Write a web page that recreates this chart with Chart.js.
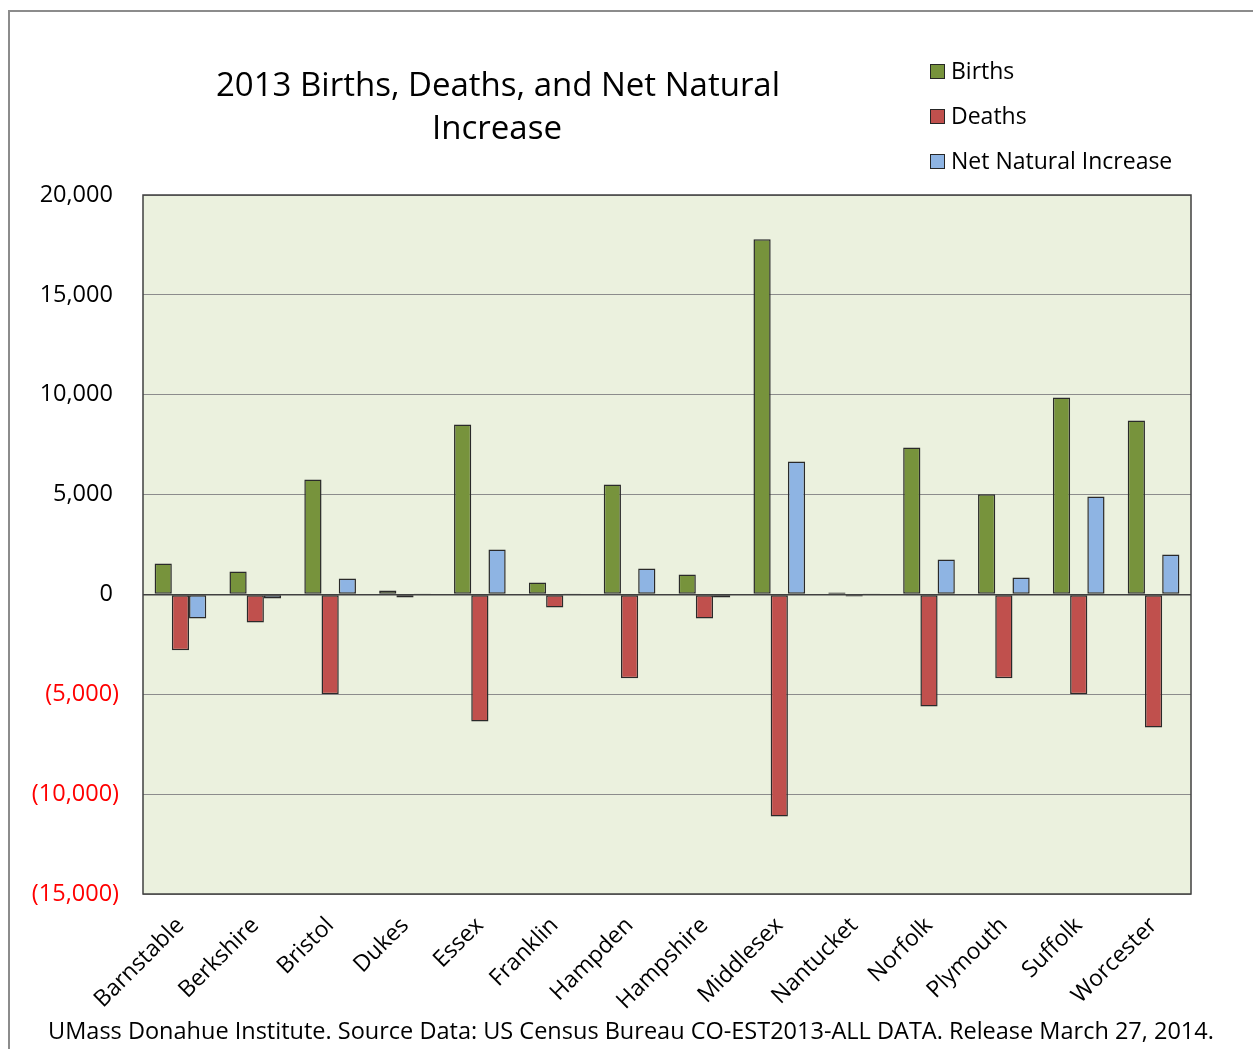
<!DOCTYPE html>
<html>
<head>
<meta charset="utf-8">
<script src="https://cdn.jsdelivr.net/npm/chart.js@4/dist/chart.umd.min.js"></script>
<style>
  html, body { margin: 0; padding: 0; background: #ffffff; }
  #wrap { width: 1253px; height: 1049px; position: relative; }
  canvas { display: block; }
</style>
</head>
<body>
<div id="wrap"><canvas id="c" width="1253" height="1049"></canvas></div>
<script>
const titleLines = ["2013 Births, Deaths, and Net Natural", "Increase"];
const footerText = "UMass Donahue Institute. Source Data: US Census Bureau CO-EST2013-ALL DATA. Release March 27, 2014.";
const counties = ["Barnstable", "Berkshire", "Bristol", "Dukes", "Essex", "Franklin", "Hampden", "Hampshire", "Middlesex", "Nantucket", "Norfolk", "Plymouth", "Suffolk", "Worcester"];
const seriesNames = ["Births", "Deaths", "Net Natural Increase"];
const births = [1550, 1150, 5760, 200, 8510, 600, 5510, 1000, 17780, 100, 7360, 5010, 9860, 8710];
const deaths = [-2800, -1400, -5000, -150, -6360, -650, -4200, -1200, -11120, -100, -5610, -4200, -5000, -6660];
const netIncrease = [-1200, -200, 800, 50, 2250, 50, 1300, -150, 6660, 50, 1750, 850, 4900, 2000];
const yTicks = [-15000, -10000, -5000, 0, 5000, 10000, 15000, 20000];
const seriesColors = ["#77933C", "#C0504D", "#8EB4E3"];

const FONT = "'Open Sans', 'DejaVu Sans', sans-serif";

function fmt(v) {
  const s = Math.abs(v).toLocaleString('en-US');
  return v < 0 ? '(' + s + ')' : s + ' ';
}

const decor = {
  id: 'decor',
  beforeDraw(chart) {
    const ctx = chart.ctx;
    const a = chart.chartArea;
    ctx.save();
    ctx.fillStyle = '#ffffff';
    ctx.fillRect(0, 0, chart.width, chart.height);
    ctx.fillStyle = '#EBF1DE';
    ctx.fillRect(a.left, a.top, a.right - a.left, a.bottom - a.top);
    ctx.restore();
  },
  afterDraw(chart) {
    const ctx = chart.ctx;
    const a = chart.chartArea;
    ctx.save();
    ctx.strokeStyle = '#404040';
    ctx.lineWidth = 1.5;
    ctx.strokeRect(a.left, a.top, a.right - a.left, a.bottom - a.top);
    ctx.strokeStyle = '#8c8c8c';
    ctx.lineWidth = 2;
    ctx.strokeRect(9, 11, 1300, 1100);
    ctx.fillStyle = '#000000';
    ctx.textAlign = 'center';
    ctx.textBaseline = 'middle';
    ctx.font = '33px ' + FONT;
    ctx.fillText(titleLines[0], 498, 87);
    ctx.fillText(titleLines[1], 497, 130);
    ctx.font = '23px ' + FONT;
    ctx.textAlign = 'left';
    chart.data.datasets.forEach((ds, i) => {
      const y = 71 + i * 45;
      ctx.fillStyle = ds.backgroundColor;
      ctx.fillRect(930, y - 7, 14, 14);
      ctx.strokeStyle = '#262626';
      ctx.lineWidth = 1;
      ctx.strokeRect(930.5, y - 6.5, 14, 14);
      ctx.fillStyle = '#000000';
      ctx.fillText(ds.label, 951, y + 1);
    });
    ctx.textAlign = 'center';
    ctx.font = '23.5px ' + FONT;
    ctx.fillText(footerText, 631, 1032);
    ctx.restore();
  }
};

new Chart(document.getElementById('c'), {
  type: 'bar',
  data: {
    labels: counties,
    datasets: [
      { label: seriesNames[0], data: births, backgroundColor: seriesColors[0] },
      { label: seriesNames[1], data: deaths, backgroundColor: seriesColors[1] },
      { label: seriesNames[2], data: netIncrease, backgroundColor: seriesColors[2] }
    ].map(d => Object.assign(d, { borderColor: '#2a2a2a', borderWidth: 1.5, borderSkipped: false }))
  },
  options: {
    responsive: false,
    animation: false,
    devicePixelRatio: 1,
    layout: { padding: { left: 0, right: 62, top: 195, bottom: 0 } },
    datasets: { bar: { barPercentage: 1, categoryPercentage: 0.69 } },
    plugins: { legend: { display: false }, title: { display: false }, tooltip: { enabled: false } },
    scales: {
      x: {
        grid: { display: false, drawTicks: false },
        border: { display: false },
        ticks: {
          color: '#000000',
          font: { family: FONT, size: 23 },
          maxRotation: 45, minRotation: 45,
          autoSkip: false,
          padding: 18
        },
        afterFit(s) { s.height = 155; }
      },
      y: {
        min: -15000, max: 20000,
        afterBuildTicks(s) { s.ticks = yTicks.map(v => ({ value: v })); },
        grid: {
          drawTicks: false,
          color: c => (c.tick && c.tick.value === 0) ? '#404040' : '#8c8c8c',
          lineWidth: c => (c.tick && c.tick.value === 0) ? 1.5 : 1
        },
        border: { display: false },
        ticks: {
          color: c => (c.tick && c.tick.value < 0) ? '#FF0000' : '#000000',
          font: { family: FONT, size: 23.5 },
          padding: 24,
          callback: v => fmt(v)
        },
        afterFit(s) { s.width = 143; }
      }
    }
  },
  plugins: [decor]
});
</script>
</body>
</html>
